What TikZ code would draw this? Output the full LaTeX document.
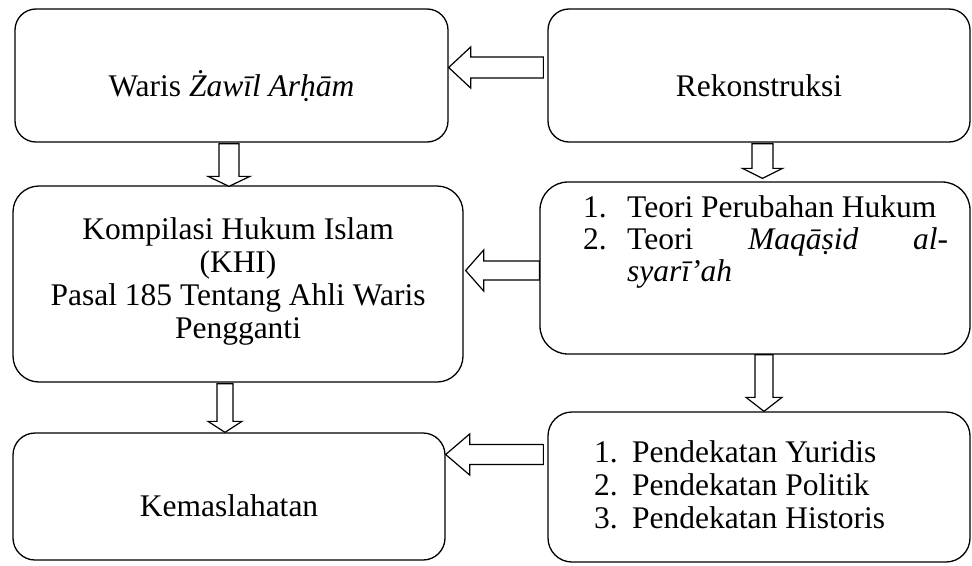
\documentclass[tikz,border=0pt]{standalone}
\usepackage{fontspec}
\setmainfont{Liberation Serif}
\usetikzlibrary{calc}
\tikzset{
  box/.style={draw=black, line width=1.3pt, fill=white, inner sep=0pt},
  txt/.style={inner sep=0pt, anchor=base, font=\fontsize{31.5}{33}\selectfont},
  txtl/.style={txt, anchor=base west},
  blk/.style={draw=black, line width=1.2pt, fill=white, line join=miter},
}
% #1 tail, #2 tip, #3 shaft half width, #4 head half width, #5 head length
\newcommand\blockarr[5]{%
  \coordinate (hb) at ($(#2)!#5!(#1)$);
  \draw[blk] ($(#1)!#3!90:(#2)$) -- ($(hb)!#3!-90:(#1)$) -- ($(hb)!#4!-90:(#1)$)
    -- (#2) -- ($(hb)!#4!90:(#1)$) -- ($(hb)!#3!90:(#1)$) -- ($(#1)!#3!-90:(#2)$) -- cycle;}
\begin{document}
\begin{tikzpicture}[x=1pt,y=-1pt]
\useasboundingbox (0,0) rectangle (972,565);
% boxes
\node[box, rounded corners=21pt, minimum width=433pt, minimum height=133pt] (b1) at (231.5,75.5) {};
\node[box, rounded corners=21pt, minimum width=422pt, minimum height=133pt] (b2) at (759,75.5) {};
\node[box, rounded corners=26pt, minimum width=450pt, minimum height=196pt] (b3) at (238,284) {};
\node[box, rounded corners=28pt, minimum width=430pt, minimum height=172pt] (b4) at (755,268) {};
\node[box, rounded corners=22pt, minimum width=432pt, minimum height=127pt] (b5) at (229,496.5) {};
\node[box, rounded corners=24pt, minimum width=422pt, minimum height=150pt] (b6) at (759,487) {};
% texts
\node[txt] (t1) at (231.5,96) {Waris \textit{Żawīl Arḥām}};
\node[txt] (t2) at (759,96) {Rekonstruksi};
\node[txt] (t3a) at (238,239) {Kompilasi Hukum Islam};
\node[txt] (t3b) at (238,272) {(KHI)};
\node[txt] (t3c) at (238,305) {Pasal 185 Tentang Ahli Waris};
\node[txt] (t3d) at (238,338) {Pengganti};
\node[txtl] (n4a) at (583,217) {1.};
\node[txtl] (t4a) at (627,217) {Teori Perubahan Hukum};
\node[txtl] (n4b) at (583,249) {2.};
\node[txtl] (t4b) at (627,249) {\hbox to 321pt{Teori\hfill\textit{Maqāṣid}\hfill\textit{al-}}};
\node[txtl] (t4c) at (627,281) {\textit{syarī’ah}};
\node[txt] (t5) at (229,516) {Kemaslahatan};
\node[txtl] (n6a) at (594,462) {1.};
\node[txtl] (t6a) at (632,462) {Pendekatan Yuridis};
\node[txtl] (n6b) at (594,495) {2.};
\node[txtl] (t6b) at (632,495) {Pendekatan Politik};
\node[txtl] (n6c) at (594,528) {3.};
\node[txtl] (t6c) at (632,528) {Pendekatan Historis};
% arrow end points, taken from the boxes
\coordinate (a1s) at ($(b2.west)+(-4,-8)$);
\coordinate (a1e) at ($(b1.east)+(0,-8)$);
\coordinate (a2s) at ($(b2.south)+(3.5,1)$);
\coordinate (a2e) at ($(b4.north)+(7.5,-3)$);
\coordinate (a3s) at ($(b1.south)+(-2.5,1)$);
\coordinate (a3e) at ($(b3.north)+(-9,1)$);
\coordinate (a4s) at ($(b4.west)+(0,2.5)$);
\coordinate (a4e) at ($(b3.east)+(2,-13.5)$);
\coordinate (a5s) at ($(b4.south)+(9,0)$);
\coordinate (a5e) at ($(b6.north)+(5,0)$);
\coordinate (a6s) at ($(b3.south)+(-13,1)$);
\coordinate (a6e) at ($(b5.north)+(-4,0)$);
\coordinate (a7s) at ($(b6.west)+(-4,-32.5)$);
\coordinate (a7e) at ($(b5.east)+(0,-42)$);
% block arrows
\blockarr{a1s}{a1e}{10.5pt}{20.5pt}{22pt}
\blockarr{a2s}{a2e}{10.5pt}{20pt}{10pt}
\blockarr{a3s}{a3e}{10pt}{21pt}{10pt}
\blockarr{a4s}{a4e}{9.5pt}{20.5pt}{18pt}
\blockarr{a5s}{a5e}{9pt}{18pt}{14pt}
\blockarr{a6s}{a6e}{8pt}{17pt}{11pt}
\blockarr{a7s}{a7e}{10pt}{20.5pt}{24pt}
\end{tikzpicture}
\end{document}
